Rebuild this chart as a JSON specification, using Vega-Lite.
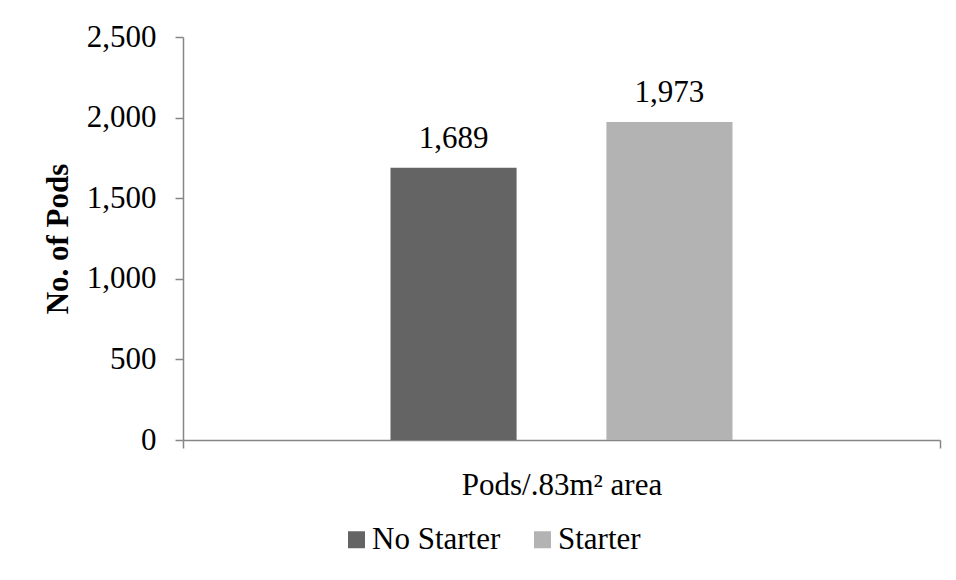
{
  "$schema": "https://vega.github.io/schema/vega-lite/v6.json",
  "width": 757,
  "height": 403,
  "autosize": {"type": "none"},
  "padding": {"left": 183, "top": 37, "right": 16, "bottom": 140},
  "background": "white",
  "config": {
    "view": {"stroke": null},
    "font": "Liberation Serif",
    "axis": {"labelFont": "Liberation Serif", "titleFont": "Liberation Serif", "labelColor": "black", "titleColor": "black"}
  },
  "data": {
    "values": [
      {"group": "Pods/.83m² area", "series": "No Starter", "pods": 1689},
      {"group": "Pods/.83m² area", "series": "Starter", "pods": 1973}
    ]
  },
  "encoding": {
    "x": {
      "field": "group",
      "type": "nominal",
      "scale": {"paddingInner": 0, "paddingOuter": 0},
      "axis": {
        "title": null,
        "labelAngle": 0,
        "labelFontSize": 31,
        "labelPadding": 22,
        "labelLimit": 0,
        "tickBand": "extent",
        "tickSize": 8,
        "tickColor": "#868686",
        "tickWidth": 1.5,
        "domainColor": "#868686",
        "domainWidth": 1.5
      }
    },
    "xOffset": {
      "field": "series",
      "type": "nominal",
      "scale": {"domain": ["No Starter", "Starter"], "paddingInner": 0.416, "paddingOuter": 0.961}
    },
    "y": {
      "field": "pods",
      "type": "quantitative",
      "scale": {"domain": [0, 2500]},
      "axis": {
        "title": "No. of Pods",
        "titleFontSize": 31,
        "titleFontWeight": "bold",
        "titlePadding": 12,
        "values": [0, 500, 1000, 1500, 2000, 2500],
        "format": ",.0f",
        "labelFontSize": 31,
        "labelPadding": 19,
        "tickSize": 8,
        "tickColor": "#868686",
        "tickWidth": 1.5,
        "domainColor": "#868686",
        "domainWidth": 1.5,
        "grid": false
      }
    }
  },
  "layer": [
    {
      "mark": {"type": "bar"},
      "encoding": {
        "color": {
          "field": "series",
          "type": "nominal",
          "scale": {"domain": ["No Starter", "Starter"], "range": ["#646464", "#b3b3b3"]},
          "legend": {
            "title": null,
            "orient": "none",
            "direction": "horizontal",
            "legendX": 158,
            "legendY": 487,
            "symbolType": "square",
            "symbolSize": 289,
            "symbolStrokeWidth": 0,
            "symbolOpacity": 1,
            "labelFontSize": 31,
            "labelFont": "Liberation Serif",
            "labelColor": "black",
            "labelOffset": 0,
            "columnPadding": 26
          }
        }
      }
    },
    {
      "mark": {"type": "text", "fontSize": 31, "font": "Liberation Serif", "baseline": "alphabetic", "dy": -20, "color": "black"},
      "encoding": {
        "text": {"field": "pods", "type": "quantitative", "format": ",.0f"}
      }
    }
  ]
}
